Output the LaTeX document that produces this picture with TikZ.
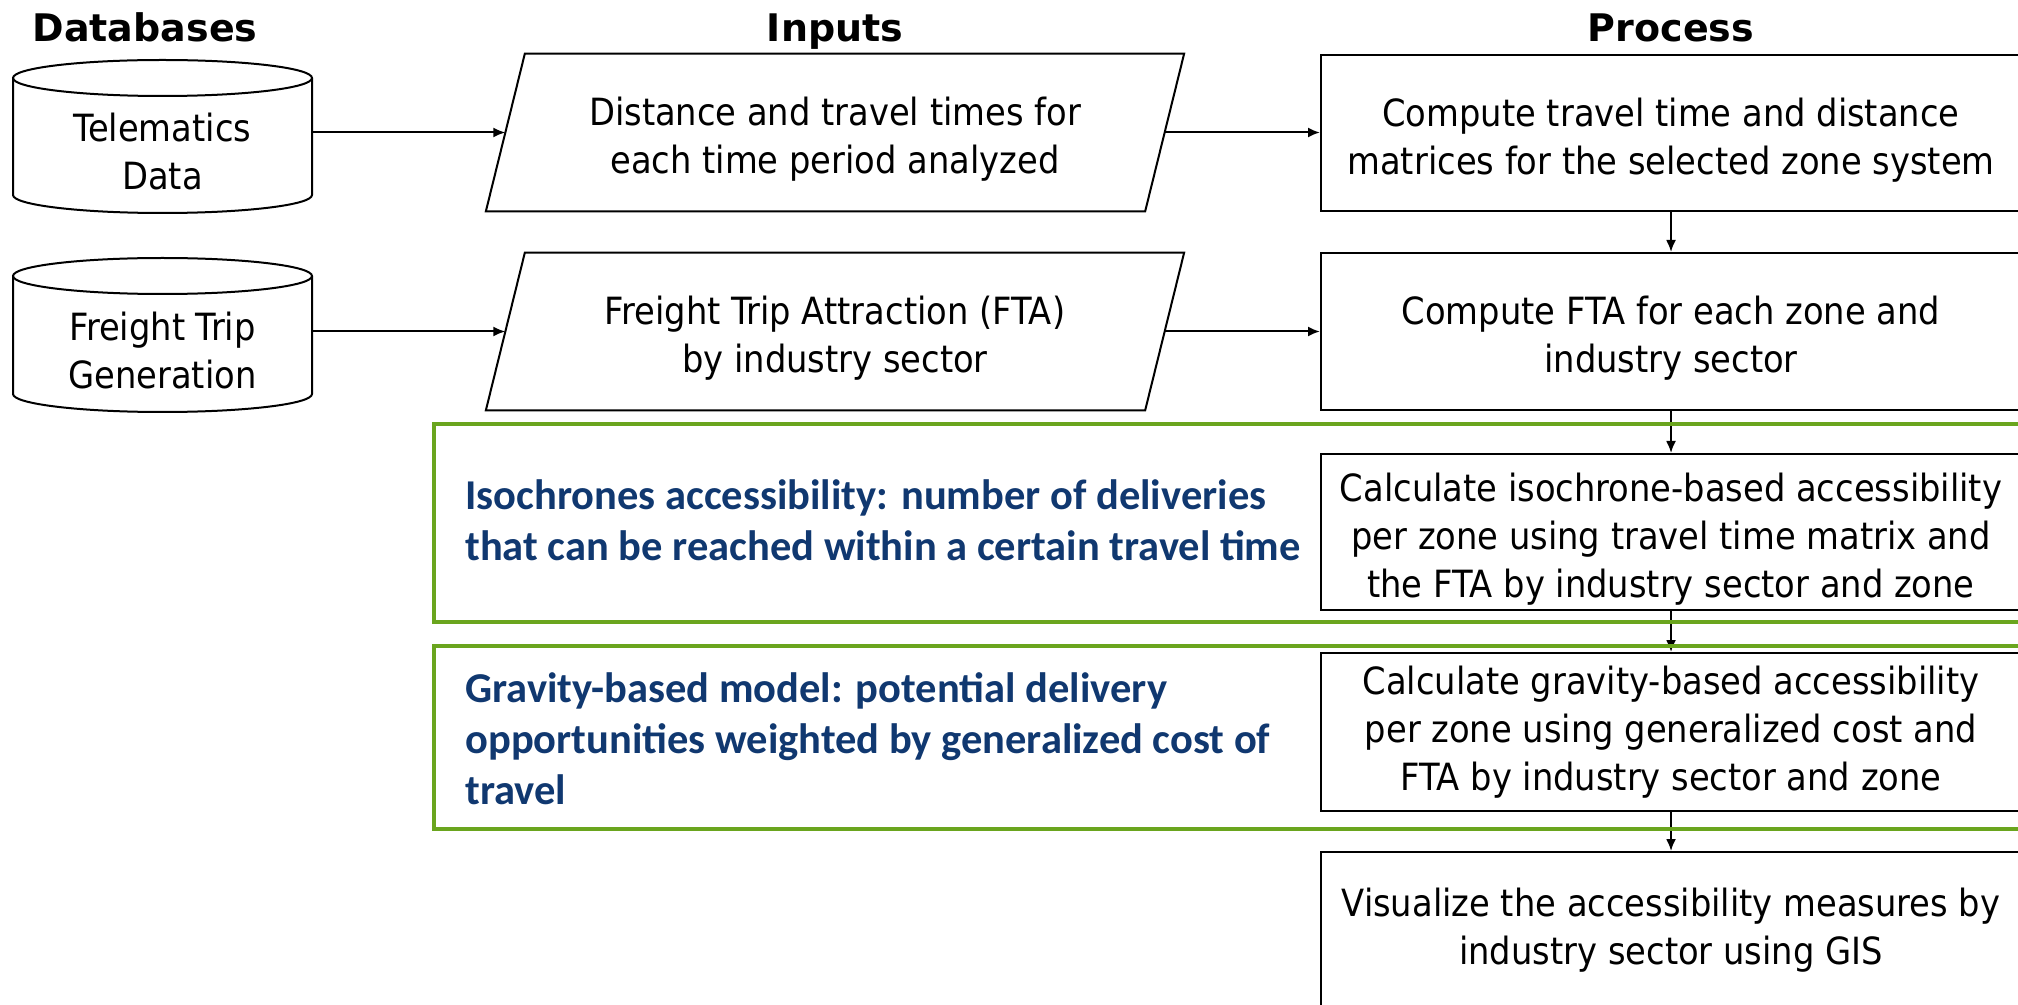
\documentclass[tikz,border=0pt]{standalone}
\usepackage{fontspec}
\setmainfont{DejaVu Sans Condensed}
\newfontfamily\headfont{DejaVu Sans}
\newfontfamily\notefont{Carlito}
\usetikzlibrary{arrows.meta,calc}
\definecolor{framegreen}{HTML}{6AA51E}
\definecolor{notenavy}{HTML}{103870}
% extra height on a first line, to set the text a little lower in its box
\newcommand\toppad{\rule{0pt}{21pt}}

\begin{document}
\begin{tikzpicture}[x=0.5pt,y=-0.5pt,
  heading/.style={font=\headfont\bfseries\fontsize{19pt}{23pt}\selectfont, anchor=base, inner sep=0},
  body/.style={font=\fontsize{18.75pt}{24pt}\selectfont, align=center, inner sep=0},
  procbox/.style={body, draw, line width=1pt, minimum width=350pt},
  inbox/.style={body, minimum width=329.25pt, minimum height=78.5pt},
  dbtext/.style={body, minimum width=149.5pt},
  arr/.style={line width=1pt, -{Latex[length=6pt,width=5pt]}},
  outline/.style={line width=1pt},
  frame/.style={draw=framegreen, line width=2.2pt},
  note/.style={font=\notefont\bfseries\fontsize{21.25pt}{25.5pt}\selectfont, text=notenavy, align=left, anchor=west, inner sep=0},
]
\useasboundingbox (0,0) rectangle (2018,1005);
\clip (0,0) rectangle (2018,1005);
\fill[white] (0,0) rectangle (2018,1005);

% column headings
\node[heading] (hdb)   at (145,42)  {Databases};
\node[heading] (hin)   at (835,42)  {Inputs};
\node[heading] (hproc) at (1671,42) {Process};

% databases (cylinders)
\draw[outline] (13,78) -- (13,195) arc[start angle=180,end angle=360,x radius=74.75pt,y radius=9pt] -- (312,78);
\draw[outline] (162.5,78) ellipse[x radius=74.75pt,y radius=9pt];
\node[dbtext] (tele) at (162.5,152) {Telematics\\Data};

\draw[outline] (13,276) -- (13,394) arc[start angle=180,end angle=360,x radius=74.75pt,y radius=9pt] -- (312,276);
\draw[outline] (162.5,276) ellipse[x radius=74.75pt,y radius=9pt];
\node[dbtext] (fgen) at (162.5,351) {Freight Trip\\Generation};

% inputs (parallelograms)
\node[inbox] (inp1) at (835,132.5) {\toppad Distance and travel times for\\each time period analyzed};
\draw[outline] ($(inp1.north west)+(19.5,0)$) -- ($(inp1.north east)+(19.5,0)$)
  -- ($(inp1.south east)+(-19.5,0)$) -- ($(inp1.south west)+(-19.5,0)$) -- cycle;
\node[inbox] (inp2) at (835,331.5) {\toppad Freight Trip Attraction (FTA)\\by industry sector};
\draw[outline] ($(inp2.north west)+(19.5,0)$) -- ($(inp2.north east)+(19.5,0)$)
  -- ($(inp2.south east)+(-19.5,0)$) -- ($(inp2.south west)+(-19.5,0)$) -- cycle;

% process steps
\node[procbox, minimum height=78pt]   (p1) at (1671,133)   {\toppad Compute travel time and distance\\matrices for the selected zone system};
\node[procbox, minimum height=78.5pt] (p2) at (1671,331.5) {\toppad Compute FTA for each zone and\\industry sector};
\node[procbox, minimum height=78pt]   (p3) at (1671,532)   {\toppad Calculate isochrone-based accessibility\\per zone using travel time matrix and\\the FTA by industry sector and zone};
\node[procbox, minimum height=79pt]   (p4) at (1671,732)   {Calculate gravity-based accessibility\\per zone using generalized cost and\\FTA by industry sector and zone};
\node[procbox, minimum height=78pt]   (p5) at (1671,930)   {Visualize the accessibility measures by\\industry sector using GIS};

% connectors
\draw[arr] (inp1.west -| tele.east) -- (inp1.west);
\draw[arr] (inp1.east) -- (inp1.east -| p1.west);
\draw[arr] (inp2.west -| fgen.east) -- (inp2.west);
\draw[arr] (inp2.east) -- (inp2.east -| p2.west);
\draw[arr] (p1.south) -- (p2.north);
\draw[arr] (p2.south) -- (p3.north);
\draw[arr] (p3.south) -- (p4.north);
\draw[arr] (p4.south) -- (p5.north);

% accessibility measures
\draw[frame] (434,424) rectangle (2040,622);
\draw[frame] (434,646) rectangle (2040,829);
\node[note] (iso) at (465,520.5) {Isochrones accessibility: number of deliveries\\that can be reached within a certain travel time};
\node[note] (grav) at (465,738.5) {Gravity-based model: potential delivery\\opportunities weighted by generalized cost of\\travel};
\end{tikzpicture}
\end{document}
